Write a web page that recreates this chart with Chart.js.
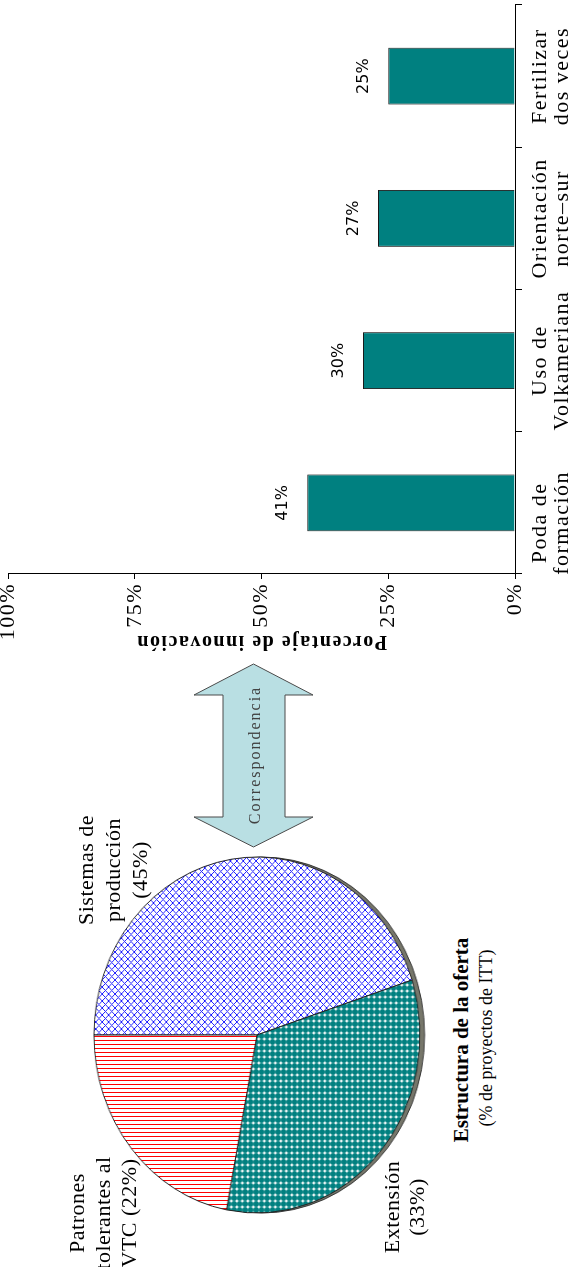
<!DOCTYPE html>
<html lang="es">
<head>
<meta charset="utf-8">
<title>Estructura de la oferta y porcentaje de innovación</title>
<script src="https://cdn.jsdelivr.net/npm/chart.js@4.4.1/dist/chart.umd.min.js"></script>
<style>
  html, body { margin: 0; padding: 0; background: #fff; overflow: hidden; }
  body { width: 575px; height: 1267px; position: relative; }
  /* the whole sheet is laid out landscape and turned a quarter to the left */
  #lamina {
    position: absolute; left: 0; top: 0; width: 1267px; height: 575px;
    transform-origin: 0 0; transform: translateY(1267px) rotate(-90deg);
    font-family: "Liberation Serif", "Times New Roman", serif; color: #000;
  }
  #barWrap { position: absolute; left: 600px; top: 0; width: 667px; height: 575px; }
  #pieWrap { position: absolute; left: 42px; top: 67px; width: 380px; height: 380px; transform: scaleY(0.916); }
  #flecha { position: absolute; left: 0; top: 0; }
  .rotulo { position: absolute; width: 200px; text-align: center; font-size: 22px; line-height: 26px; letter-spacing: 0.5px; white-space: nowrap; }
  #titulo { position: absolute; left: 77px; top: 449px; width: 300px; text-align: center; font-size: 21px; font-weight: bold; line-height: 24px; white-space: nowrap; }
  #subtitulo { position: absolute; left: 79px; top: 475px; width: 300px; text-align: center; font-size: 18px; line-height: 22px; white-space: nowrap; }
</style>
</head>
<body>
<div id="lamina">
  <div id="pieWrap"><canvas id="pieChart" width="380" height="380"></canvas></div>

  <div class="rotulo" id="lblSistemas" style="left:297px; top:72px; line-height:27px;"></div>
  <div class="rotulo" id="lblPatrones" style="left:-46px; top:64px;"></div>
  <div class="rotulo" id="lblExtension" style="left:-40px; top:379px; line-height:25px;"></div>

  <div id="titulo">Estructura de la oferta</div>
  <div id="subtitulo">(% de proyectos de ITT)</div>

  <svg id="flecha" width="1267" height="575">
    <polygon points="420,253.5 450,194 450,223 572,223 572,194 603,253.5 572,313 572,285 450,285 450,313"
             fill="#b9dfe3" stroke="#4a4a4a" stroke-width="1"/>
    <text x="512" y="254" text-anchor="middle" dominant-baseline="central"
          font-family="Liberation Serif, serif" font-size="16" fill="#404040" letter-spacing="2">Correspondencia</text>
  </svg>

  <div id="barWrap"><canvas id="barChart" width="667" height="575"></canvas></div>
</div>

<script>
'use strict';

// innovation adopted, by practice
let categories = [['Poda de', 'formación'], ['Uso de', 'Volkameriana'], ['Orientación', 'norte–sur'], ['Fertilizar', 'dos veces']];
let innovationPct = [41, 30, 27, 25];
let valueTicks = [0, 25, 50, 75, 100];

// structure of the ITT offer
let offerNames = ['Sistemas de producción', 'Extensión', 'Patrones tolerantes al VTC'];
let offerLines = [['Sistemas de', 'producción'], ['Extensión'], ['Patrones', 'tolerantes al', 'VTC']];
let offerPct = [45, 33, 22];

const serif = '"Liberation Serif", "Times New Roman", serif';

// the first category label sits a bit left of its slot
let labelShift = [-20, 0, 0, 0];

// pie labels: percentage goes on its own line unless the last line is short
let labelIds = ['lblSistemas', 'lblExtension', 'lblPatrones'];
for (let i = 0; i < offerNames.length; i++) {
  let lines = offerLines[i].slice();
  let last = lines[lines.length - 1];
  if (last.length <= 3) {
    lines[lines.length - 1] = `${last} (${offerPct[i]}%)`;
  } else {
    lines.push(`(${offerPct[i]}%)`);
  }
  document.getElementById(labelIds[i]).innerHTML = lines.join('<br>');
}

function makePattern(size, draw) {
  let tile = document.createElement('canvas');
  tile.width = size;
  tile.height = size;
  let g = tile.getContext('2d');
  g.fillStyle = '#fff';
  g.fillRect(0, 0, size, size);
  draw(g, size);
  return g.createPattern(tile, 'repeat');
}

let blueHatch = makePattern(7, (g, s) => {
  g.strokeStyle = '#1a1aff';
  g.lineWidth = 1;
  g.beginPath();
  g.moveTo(0, 0); g.lineTo(s, s);
  g.moveTo(s, 0); g.lineTo(0, s);
  g.stroke();
});

let tealDots = makePattern(6, (g) => {
  g.fillStyle = '#008080';
  g.beginPath();
  g.arc(3, 3, 2.95, 0, Math.PI * 2);
  g.fill();
});

let redStripes = makePattern(4, (g, s) => {
  g.fillStyle = '#ff0000';
  g.fillRect(0, 0, 1, s);
});

// darker rim under the pie to give it some thickness
const pieEdge = {
  id: 'pieEdge',
  beforeDatasetsDraw(chart) {
    let arc = chart.getDatasetMeta(0).data[0];
    let ctx = chart.ctx;
    ctx.save();
    ctx.beginPath();
    ctx.arc(arc.x, arc.y + 5, arc.outerRadius, 0, Math.PI * 2);
    ctx.fillStyle = '#76766a';
    ctx.fill();
    ctx.strokeStyle = '#333';
    ctx.lineWidth = 1;
    ctx.stroke();
    ctx.restore();
  }
};

new Chart(document.getElementById('pieChart'), {
  type: 'pie',
  data: {
    labels: offerNames,
    datasets: [{
      data: offerPct,
      backgroundColor: [blueHatch, tealDots, redStripes],
      borderColor: '#222',
      borderWidth: 1
    }]
  },
  options: {
    responsive: false,
    animation: false,
    radius: 178,
    plugins: { legend: { display: false }, tooltip: { enabled: false } }
  },
  plugins: [pieEdge]
});

// axis text on this sheet is slightly spaced out
const looseText = {
  id: 'looseText',
  beforeDraw(chart) {
    chart.ctx.letterSpacing = '1.5px';
  }
};

// two-line category names under the bars
const categoryText = {
  id: 'categoryText',
  afterDraw(chart) {
    let ctx = chart.ctx;
    let x = chart.scales.x;
    ctx.save();
    ctx.letterSpacing = '1.5px';
    ctx.font = `22px ${serif}`;
    ctx.fillStyle = '#000';
    ctx.textAlign = 'center';
    ctx.textBaseline = 'middle';
    categories.forEach((lines, i) => {
      let px = x.getPixelForValue(i) + labelShift[i];
      lines.forEach((line, j) => {
        ctx.fillText(line, px, x.top + 25 + j * 22);
      });
    });
    ctx.restore();
  }
};

const barValues = {
  id: 'barValues',
  afterDatasetsDraw(chart) {
    let ctx = chart.ctx;
    let meta = chart.getDatasetMeta(0);
    ctx.save();
    ctx.letterSpacing = '0px';
    ctx.font = '16px "DejaVu Sans", sans-serif';
    ctx.fillStyle = '#000';
    ctx.textAlign = 'center';
    ctx.textBaseline = 'middle';
    meta.data.forEach((bar, i) => {
      ctx.fillText(`${innovationPct[i]}%`, bar.x, bar.y - 24);
    });
    ctx.restore();
  }
};

new Chart(document.getElementById('barChart'), {
  type: 'bar',
  data: {
    labels: categories,
    datasets: [{
      data: innovationPct,
      backgroundColor: '#008080',
      borderColor: '#1a1a1a',
      borderWidth: 1,
      barPercentage: 0.4,
      categoryPercentage: 1
    }]
  },
  options: {
    responsive: false,
    animation: false,
    layout: { padding: { top: 8, right: 5, left: 0, bottom: 0 } },
    plugins: { legend: { display: false }, tooltip: { enabled: false } },
    scales: {
      x: {
        grid: { offset: true, drawOnChartArea: false, tickLength: 7, color: '#000' },
        border: { color: '#000' },
        ticks: { display: false },
        afterFit(scale) { scale.height = 60; }
      },
      y: {
        min: 0,
        max: 100,
        afterBuildTicks(scale) { scale.ticks = valueTicks.map(v => ({ value: v })); },
        grid: { drawOnChartArea: false, tickLength: 5, color: '#000' },
        border: { color: '#000' },
        ticks: {
          color: '#000',
          font: { family: serif, size: 22 },
          padding: 4,
          callback: v => v + '%'
        },
        title: {
          display: true,
          text: 'Porcentaje de innovación',
          color: '#000',
          font: { family: serif, size: 20, weight: 'bold' },
          padding: { top: 14 }
        },
        afterFit(scale) {
          scale.width = 93;
          scale.paddingTop = 0;
          scale.paddingBottom = 0;
        }
      }
    }
  },
  plugins: [looseText, categoryText, barValues]
});
</script>
</body>
</html>
